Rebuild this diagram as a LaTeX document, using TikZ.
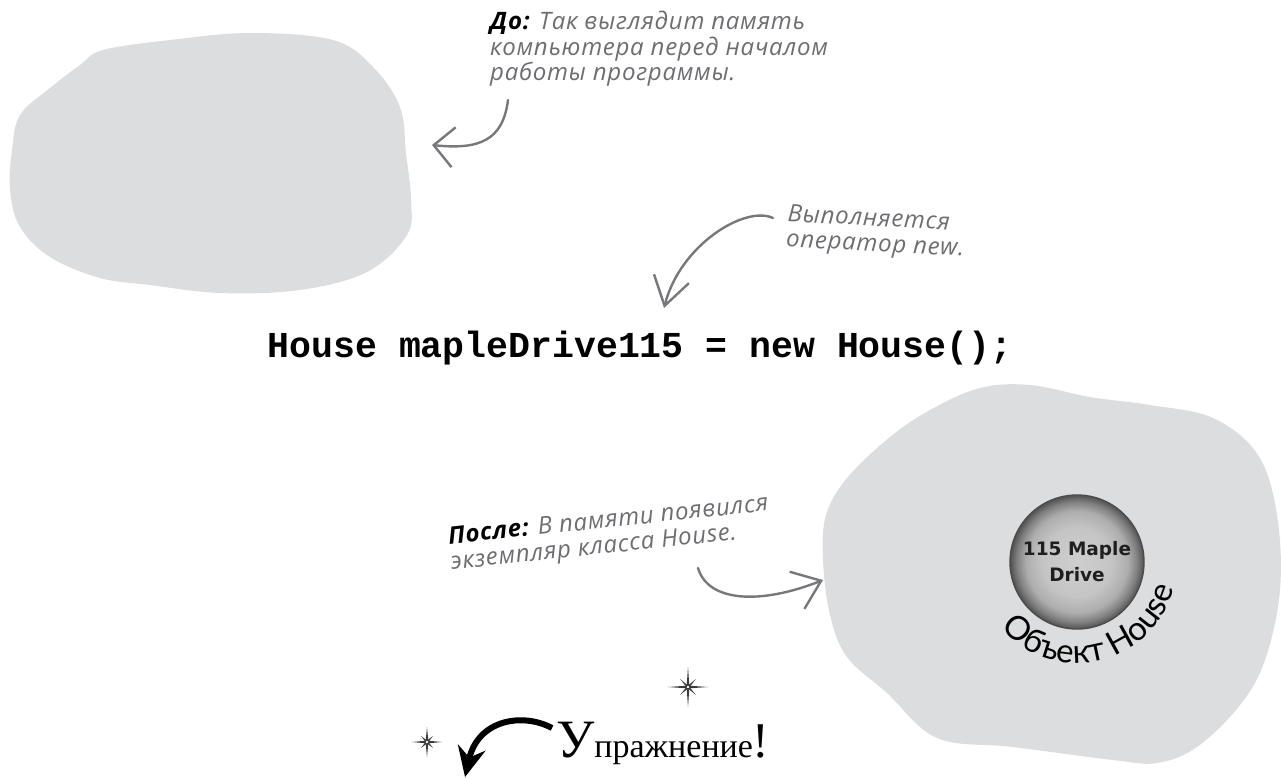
\documentclass[tikz,border=0pt]{standalone}
\usepackage{fontspec}
\usetikzlibrary{positioning}
\usetikzlibrary{arrows.meta, decorations.text}

\newfontfamily\notefont{Open Sans}[LetterSpace=3]
\newfontfamily\codefont{Liberation Mono}
\newfontfamily\housefont{DejaVu Sans}
\newfontfamily\objfont{Lato}
\newfontfamily\exfont{Liberation Serif}

\definecolor{memgray}{HTML}{DCDDDF}
\definecolor{notegray}{HTML}{6D6E71}
\definecolor{penink}{HTML}{77787B}
\definecolor{starink}{HTML}{3A3A3A}

% light middle, dark rim
\pgfdeclareradialshading{bulb}{\pgfpointorigin}{color(0bp)=(black!19); color(13bp)=(black!23);
  color(19bp)=(black!32); color(22.5bp)=(black!50); color(25bp)=(black!68); color(50bp)=(black!68)}

% little four-ray star with short diagonals
\tikzset{pics/sparkle/.style={code={
  \fill[starink] (-#1pt,0) -- (0,1.4pt) -- (#1pt,0) -- (0,-1.4pt) -- cycle
                 (0,-#1pt) -- (1.4pt,0) -- (0,#1pt) -- (-1.4pt,0) -- cycle;
  \fill[starink, rotate=45] ({-0.55*#1pt},0) -- (0,1.2pt) -- ({0.55*#1pt},0) -- (0,-1.2pt) -- cycle
                 (0,{-0.55*#1pt}) -- (1.2pt,0) -- (0,{0.55*#1pt}) -- (-1.2pt,0) -- cycle;
}}}

\begin{document}
\begin{tikzpicture}[x=1pt, y=-1pt]
    \useasboundingbox (0,0) rectangle (1281,777);

    \tikzstyle{memory} = [fill=memgray]
    \tikzstyle{note} = [font=\notefont\itshape\fontsize{24}{25.5}\selectfont, text=notegray, align=left, inner sep=0]
    \tikzstyle{pen} = [draw=penink, line width=2.4pt, line cap=round]

    % heap before and after
    \fill[memory] plot[smooth cycle, tension=0.6] coordinates {
        (103,50) (170,40) (250,33) (333,40) (373,67) (400,107) (406,153) (411,200)
        (407,235) (367,272) (300,290) (220,293) (150,285) (100,278) (50,257)
        (20,227) (10,190) (12,150) (20,115) (50,88) (80,65)};
    \fill[memory] plot[smooth cycle, tension=0.6] coordinates {
        (890,437) (930,410) (980,388) (1030,385) (1090,397) (1150,405) (1213,418)
        (1258,455) (1277,515) (1280,590) (1265,660) (1240,705) (1197,747) (1157,763)
        (1113,760) (1013,747) (937,738) (887,693) (847,657) (830,615) (823,560)
        (826,515) (847,478)};

    % notes
    \node[note, anchor=north west] (before) at (490,11)
        {\textcolor{black}{\bfseries До:} Так выглядит память\\компьютера перед началом\\работы программы.};
    \node[note, anchor=north west, rotate=-3] (newnote) at (788,204) {Выполняется\\оператор new.};
    \node[note, anchor=north west, rotate=6] (after) at (447,527)
        {\textcolor{black}{\bfseries После:} В памяти появился\\экземпляр класса House.};

    \node[anchor=base, inner sep=0, font=\codefont\bfseries\fontsize{36.5}{40}\selectfont] (stmt) at (640,357)
        {House mapleDrive115 = new House();};

    % the new object
    \node[circle, minimum size=134pt, shading=bulb, draw=black!70, line width=1.4pt,
          align=center, text=black!88,
          font=\housefont\bfseries\fontsize{18.5}{26}\selectfont] (obj) at (1077,562) {115 Maple\\Drive};
    \path[decorate, decoration={text along path, text align=center,
          text={|\objfont\fontsize{33}{33}\selectfont|Объект House}}]
        ([shift={(219:101pt)}]obj.center) arc[start angle=219, end angle=347, radius=101pt];

    % pen arrows
    \coordinate (b0) at (508,100);
    \coordinate (b1) at (432,145);
    \draw[pen, -{Straight Barb[length=20pt, width=40pt]}] (b0) .. controls (503,140) and (480,150) .. (b1);
    \coordinate (n0) at (773,218);
    \coordinate (n1) at (664,308);
    \draw[pen, -{Straight Barb[length=28pt, width=36pt]}] (n0) .. controls (745,205) and (680,245) .. (n1);
    \coordinate (a0) at (698,568);
    \coordinate (a1) at (823,580);
    \draw[pen, -{Straight Barb[length=26pt, width=40pt]}] (a0) .. controls (708,602) and (760,605) .. (a1);

    % exercise mark
    \pic at (688,687) {sparkle=20};
    \pic at (427,742) {sparkle=15};
    \coordinate (ex0) at (552,728);
    \coordinate (ex1) at (465,777);
    \draw[line width=6pt, -{Stealth[length=30pt, width=28pt, inset=10pt]}] (ex0) .. controls (522,712) and (478,720) .. (ex1);
    \node[anchor=base west, inner sep=0] (exercise) at (556,757)
        {\exfont{\fontsize{54}{54}\selectfont У}{\fontsize{34}{34}\selectfont пражнение}{\fontsize{50}{50}\selectfont !}};
\end{tikzpicture}
\end{document}
